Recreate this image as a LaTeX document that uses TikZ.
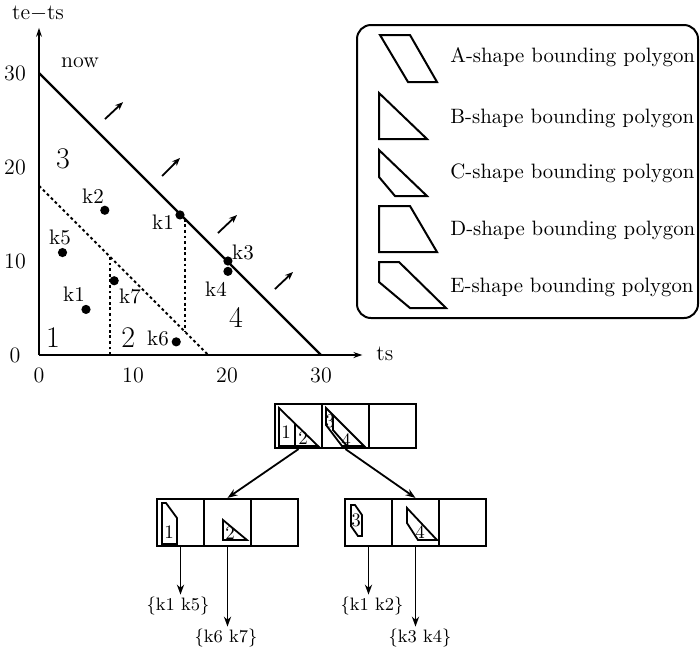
\documentclass[tikz,border=0pt]{standalone}
\usetikzlibrary{arrows.meta}
\begin{document}
\begin{tikzpicture}[x=0.5pt,y=-0.5pt,
  axisline/.style={line width=1.3pt},
  bound/.style={line width=1.1pt},
  split/.style={line width=1pt, dash pattern=on 1.4pt off 1.4pt},
  dot/.style={circle, fill=black, inner sep=0pt, minimum size=4.6pt},
  ptlbl/.style={font=\fontsize{10.5}{12}\selectfont, inner sep=0pt},
  ticklbl/.style={font=\fontsize{11}{13}\selectfont, inner sep=0pt},
  region/.style={font=\fontsize{15}{17}\selectfont, inner sep=0pt},
  drift/.style={line width=0.9pt, -{Stealth[length=4pt,width=3.2pt]}},
  legshape/.style={line width=1pt, line join=miter},
  legtext/.style={font=\fontsize{10.4}{12.5}\selectfont, anchor=west, inner sep=0pt},
  cell/.style={draw, line width=1.1pt, minimum width=23.5pt, inner sep=0pt},
  rootcell/.style={cell, minimum height=22pt},
  leafcell/.style={cell, minimum height=23.5pt},
  inner/.style={line width=0.9pt, line join=miter},
  tinynum/.style={font=\fontsize{9.5}{11}\selectfont, inner sep=0pt},
  link/.style={line width=0.9pt, -{Stealth[length=5pt,width=3.6pt]}},
  keyset/.style={font=\fontsize{9}{11}\selectfont, inner sep=1pt}
]
\useasboundingbox (0,0) rectangle (700,650);

% ---------------- ts / (te-ts) plane ----------------
\begin{scope}[shift={(39,355)}, x=4.7pt, y=4.7pt]
  \draw[axisline, -{Stealth[length=4.5pt,width=3pt]}] (0,0) -- (34.4,0);
  \draw[axisline, -{Stealth[length=4.5pt,width=3pt]}] (0,0) -- (0,34.8);
  \node[ticklbl] (yl) at (-0.1,36.3) {te$-$ts};
  \node[ticklbl] (xl) at (36.8,0.15) {ts};

  \foreach \v in {0,10,20,30} {
    \node[ticklbl] (xt\v) at (\v,-2.15) {\v};
    \node[ticklbl] (yt\v) at (-2.55,\v) {\v};
  }

  % current time line and partition boundaries
  \draw[bound] (0,30) -- (30,0);
  \draw[split] (0,18) -- (18,0);
  \draw[split] (7.5,0) -- (7.5,10.5);
  \draw[split] (15.5,14.5) -- (15.5,2.5);

  \node[ticklbl] (now) at (4.36,31.06) {now};

  % the "now" line moves forward
  \draw[drift] (7.02,25.1) -- (8.94,26.9);
  \draw[drift] (13.09,19.04) -- (15.0,20.96);
  \draw[drift] (19.04,12.98) -- (21.06,14.89);
  \draw[drift] (25.1,7.02) -- (27.02,8.83);

  % region numbers
  \node[region] (n1) at (1.5,1.9) {1};
  \node[region] (n2) at (9.5,1.9) {2};
  \node[region] (n3) at (2.55,20.85) {3};
  \node[region] (n4) at (20.96,4.04) {4};

  % data points
  \node[dot] (p2) at (7.0,15.4) {};
  \node[dot] (p5) at (2.5,10.9) {};
  \node[dot] (p1a) at (5.0,4.85) {};
  \node[dot] (p7) at (8.0,7.9) {};
  \node[dot] (p6) at (14.6,1.4) {};
  \node[dot] (p1b) at (15.0,14.9) {};
  \node[dot] (p3) at (20.1,10.0) {};
  \node[dot] (p4) at (20.1,8.9) {};

  \node[ptlbl] (t2) at (5.74,16.9) {k2};
  \node[ptlbl] (t5) at (2.23,12.55) {k5};
  \node[ptlbl] (t1a) at (3.72,6.49) {k1};
  \node[ptlbl] (t7) at (9.68,6.28) {k7};
  \node[ptlbl] (t6) at (12.66,1.81) {k6};
  \node[ptlbl] (t1b) at (13.19,14.15) {k1};
  \node[ptlbl] (t3) at (21.7,10.96) {k3};
  \node[ptlbl] (t4) at (18.83,7.02) {k4};
\end{scope}

% ---------------- legend ----------------
\draw[line width=1pt, rounded corners=7pt] (357,25) rectangle (698,318);
\draw[legshape] (380,35) -- (410,35) -- (437,82) -- (408,82) -- cycle;
\draw[legshape] (379,93) -- (427,139) -- (379,139) -- cycle;
\draw[legshape] (379,150) -- (427,196) -- (395,196) -- (379,177) -- cycle;
\draw[legshape] (379,206) -- (410,206) -- (437,252) -- (379,252) -- cycle;
\draw[legshape] (379,262) -- (399,262) -- (446,308) -- (410,308) -- (379,282) -- cycle;
\node[legtext] (la) at (450,57) {A-shape bounding polygon};
\node[legtext] (lb) at (450,118) {B-shape bounding polygon};
\node[legtext] (lc) at (450,173) {C-shape bounding polygon};
\node[legtext] (ld) at (450,230) {D-shape bounding polygon};
\node[legtext] (le) at (450,287) {E-shape bounding polygon};

% ---------------- index tree ----------------
\node[rootcell] (r1) at (298.5,426) {};
\node[rootcell] (r2) at (345.5,426) {};
\node[rootcell] (r3) at (392.5,426) {};

\node[leafcell] (a1) at (180.5,522.5) {};
\node[leafcell] (a2) at (227.5,522.5) {};
\node[leafcell] (a3) at (274.5,522.5) {};
\node[leafcell] (b1) at (368.5,522.5) {};
\node[leafcell] (b2) at (415.5,522.5) {};
\node[leafcell] (b3) at (462.5,522.5) {};

% root entries: split B-shape (1,2) and split C-shape (3,4)
\draw[inner] (279,408) -- (318,446) -- (279,446) -- cycle;
\draw[inner] (295,424) -- (295,446);
\node[tinynum] (q1) at (286,432) {1};
\node[tinynum] (q2) at (303,438) {2};
\draw[inner] (326,408) -- (364,446) -- (342,446) -- (326,425) -- cycle;
\draw[inner] (333,415) -- (333,430) -- (347,446);
\node[tinynum] (q3) at (330,421) {3};
\node[tinynum] (q4) at (346,440) {4};

% leaf entries
\draw[inner] (162,503) -- (166,503) -- (177,518) -- (177,544) -- (162,544) -- cycle;
\node[tinynum] (s1) at (169,532) {1};
\draw[inner] (223,520) -- (247,540) -- (223,540) -- cycle;
\node[tinynum] (s2) at (230,533) {2};
\draw[inner] (351,505) -- (355,505) -- (362,515) -- (362,536) -- (358,536) -- (351,526) -- cycle;
\node[tinynum] (s3) at (356,520) {3};
\draw[inner] (407,508) -- (437,540) -- (418,540) -- (407,523) -- cycle;
\node[tinynum] (s4) at (420,532) {4};

\draw[link] (r1.south) -- (a2.north);
\draw[link] (r2.south) -- (b2.north);

\node[keyset] (k1) at (178,606) {\{k1 k5\}};
\node[keyset] (k2) at (226,638) {\{k6 k7\}};
\node[keyset] (k3) at (372,606) {\{k1 k2\}};
\node[keyset] (k4) at (420,638) {\{k3 k4\}};

\draw[link] (a1.south) -- (a1.south |- k1.north);
\draw[link] (a2.south) -- (a2.south |- k2.north);
\draw[link] (b1.south) -- (b1.south |- k3.north);
\draw[link] (b2.south) -- (b2.south |- k4.north);
\end{tikzpicture}
\end{document}
